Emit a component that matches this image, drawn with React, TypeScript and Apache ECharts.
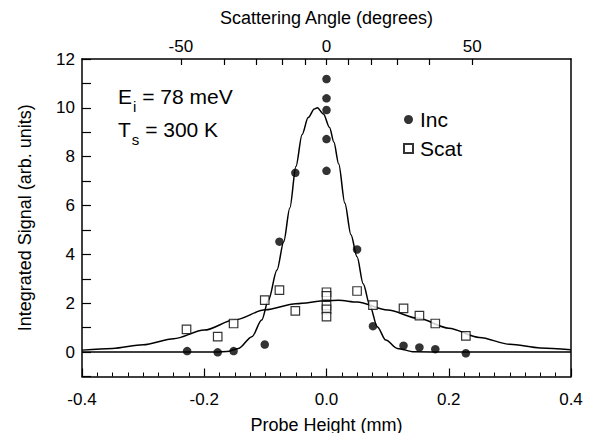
import React, { useEffect, useRef } from "react";
import * as echarts from "echarts";

// Incident beam (filled circles): [probe height mm, signal]
const incPoints: number[][] = [
  [0.0, 11.18], [0.0, 10.39], [0.0, 9.91], [0.0, 8.72], [0.0, 7.42],
  [-0.051, 7.34], [-0.077, 4.52], [0.05, 4.2], [0.076, 1.06], [-0.101, 0.31],
  [-0.228, 0.04], [-0.178, -0.01], [-0.152, 0.04], [0.126, 0.26], [0.152, 0.19],
  [0.178, 0.12], [0.228, -0.05],
];

// Scattered beam (open squares)
const scatPoints: number[][] = [
  [-0.229, 0.93], [-0.178, 0.63], [-0.152, 1.17], [-0.101, 2.13], [-0.077, 2.54],
  [-0.051, 1.69], [0.0, 2.45], [0.0, 2.3], [0.0, 1.9], [0.0, 1.75], [0.0, 1.45],
  [0.05, 2.5], [0.076, 1.92], [0.126, 1.79], [0.152, 1.49], [0.178, 1.17], [0.228, 0.66],
];

// Fit curve through incident data
const incFit: number[][] = [
  [-0.4, 0], [-0.25, 0], [-0.18, 0.0], [-0.163, 0.02], [-0.144, 0.15], [-0.122, 0.63],
  [-0.106, 1.31], [-0.095, 2.13], [-0.081, 3.36], [-0.07, 4.52], [-0.06, 5.9],
  [-0.05, 7.6], [-0.04, 8.9], [-0.03, 9.6], [-0.02, 9.95], [-0.015, 10.0],
  [-0.005, 9.75], [0.005, 9.2], [0.012, 8.6], [0.02, 7.7], [0.03, 6.1], [0.04, 4.8],
  [0.05, 3.9], [0.06, 2.8], [0.071, 1.9], [0.083, 1.04], [0.097, 0.49], [0.116, 0.15],
  [0.143, 0.01], [0.2, 0], [0.4, 0],
];

// Fit curve through scattered data
const scatFit: number[][] = [
  [-0.4, 0.08], [-0.35, 0.15], [-0.3, 0.3], [-0.25, 0.55], [-0.2, 0.9], [-0.15, 1.32],
  [-0.1, 1.73], [-0.05, 1.98], [0.0, 2.1], [0.02, 2.12], [0.05, 2.05], [0.1, 1.72],
  [0.15, 1.38], [0.2, 0.98], [0.25, 0.6], [0.3, 0.32], [0.35, 0.17], [0.4, 0.1],
];

// Scattering angle axis (degrees), probe height = 0.2 mm * tan(angle)
const angleTicks = [-50, -40, -30, -20, -10, 0, 10, 20, 30, 40, 50];
const angleLabels = [-50, 0, 50];
const armLength = 0.2;

const yLabelValues = [0, 2, 4, 6, 8, 10, 12];

const FONT = "'Liberation Sans', Arial, Helvetica, sans-serif";

const toHeight = (deg: number) => armLength * Math.tan((deg * Math.PI) / 180);

export default function App() {
  const ref = useRef<HTMLDivElement>(null);
  useEffect(() => {
    if (!ref.current) return;
    const chart = echarts.init(ref.current, undefined, { renderer: "svg" });
    const axisColor = "#000";
    chart.setOption({
      animation: false,
      backgroundColor: "#fff",
      textStyle: { fontFamily: FONT, color: "#000" },
      grid: { left: 82, right: 21, top: 59, bottom: 64.5 },
      legend: {
        orient: "vertical",
        left: 398,
        top: 104,
        itemGap: 8,
        itemWidth: 9,
        itemHeight: 9,
        data: ["Inc", "Scat"],
        textStyle: { fontFamily: FONT, fontSize: 21, color: "#000", padding: [0, 0, 0, 2] },
      },
      xAxis: [
        {
          type: "value",
          min: -0.4,
          max: 0.4,
          interval: 0.2,
          position: "bottom",
          name: "Probe Height (mm)",
          nameLocation: "middle",
          nameGap: 39,
          nameTextStyle: { fontFamily: FONT, fontSize: 18, color: "#000" },
          axisLine: { show: true, onZero: false, lineStyle: { color: axisColor, width: 1.5 } },
          axisTick: { show: true, inside: true, length: 8, lineStyle: { color: axisColor, width: 1.2 } },
          minorTick: { show: true, splitNumber: 8, length: 4, lineStyle: { color: axisColor, width: 1 } },
          axisLabel: {
            margin: 14,
            fontFamily: FONT,
            fontSize: 17,
            color: "#000",
            formatter: (v: number) => v.toFixed(1),
          },
          splitLine: { show: false },
        },
        {
          type: "value",
          min: -0.4,
          max: 0.4,
          position: "top",
          name: "Scattering Angle (degrees)",
          nameLocation: "middle",
          nameGap: 32,
          nameTextStyle: { fontFamily: FONT, fontSize: 18, color: "#000" },
          axisLine: { show: true, onZero: false, lineStyle: { color: axisColor, width: 1.5 } },
          axisTick: {
            show: true,
            inside: true,
            length: 6,
            customValues: angleTicks.map(toHeight),
            lineStyle: { color: axisColor, width: 1.2 },
          },
          axisLabel: {
            margin: 4,
            fontFamily: FONT,
            fontSize: 17,
            color: "#000",
            customValues: angleLabels.map(toHeight),
            formatter: (v: number) => String(Math.round((Math.atan(v / armLength) * 180) / Math.PI)),
          },
          splitLine: { show: false },
        },
      ],
      yAxis: [
        {
          type: "value",
          min: -1,
          max: 12,
          interval: 1,
          name: "Integrated Signal (arb. units)",
          nameLocation: "middle",
          nameGap: 48,
          nameTextStyle: { fontFamily: FONT, fontSize: 18, color: "#000" },
          axisLine: { show: true, onZero: false, lineStyle: { color: axisColor, width: 1.5 } },
          axisTick: { show: true, inside: true, length: 9, lineStyle: { color: axisColor, width: 1.2 } },
          axisLabel: {
            margin: 7,
            fontFamily: FONT,
            fontSize: 17,
            color: "#000",
            formatter: (v: number) => (yLabelValues.indexOf(v) >= 0 ? String(v) : ""),
          },
          splitLine: { show: false },
        },
        {
          type: "value",
          min: -1,
          max: 12,
          position: "right",
          axisLine: { show: true, onZero: false, lineStyle: { color: axisColor, width: 1.5 } },
          axisTick: { show: false },
          axisLabel: { show: false },
          splitLine: { show: false },
        },
      ],
      graphic: [
        {
          type: "text",
          left: 118,
          top: 86,
          style: {
            text: "{a|E}{b|i}{a| = 78 meV}",
            rich: {
              a: { fontFamily: FONT, fontSize: 21, fill: "#000" },
              b: { fontFamily: FONT, fontSize: 15, fill: "#000", padding: [19, 0, 0, 1] },
            },
          },
        },
        {
          type: "text",
          left: 118,
          top: 119,
          style: {
            text: "{a|T}{b|s}{a| = 300 K}",
            rich: {
              a: { fontFamily: FONT, fontSize: 21, fill: "#000" },
              b: { fontFamily: FONT, fontSize: 15, fill: "#000", padding: [19, 0, 0, 1] },
            },
          },
        },
      ],
      series: [
        {
          name: "IncFit",
          type: "line",
          data: incFit,
          symbol: "none",
          smooth: 0.3,
          smoothMonotone: "x",
          lineStyle: { color: "#000", width: 1.5 },
          silent: true,
          z: 2,
        },
        {
          name: "ScatFit",
          type: "line",
          data: scatFit,
          symbol: "none",
          smooth: 0.3,
          smoothMonotone: "x",
          lineStyle: { color: "#000", width: 1.5 },
          silent: true,
          z: 2,
        },
        {
          name: "Inc",
          type: "scatter",
          data: incPoints,
          symbol: "circle",
          symbolSize: 8.5,
          itemStyle: { color: "#000" },
          z: 3,
        },
        {
          name: "Scat",
          type: "scatter",
          data: scatPoints,
          symbol: "rect",
          symbolSize: 8.5,
          itemStyle: { color: "#fff", borderColor: "#000", borderWidth: 1.2 },
          z: 4,
        },
      ],
    });
    return () => chart.dispose();
  }, []);
  return <div ref={ref} style={{ width: 592, height: 441, margin: -8 }} />;
}
